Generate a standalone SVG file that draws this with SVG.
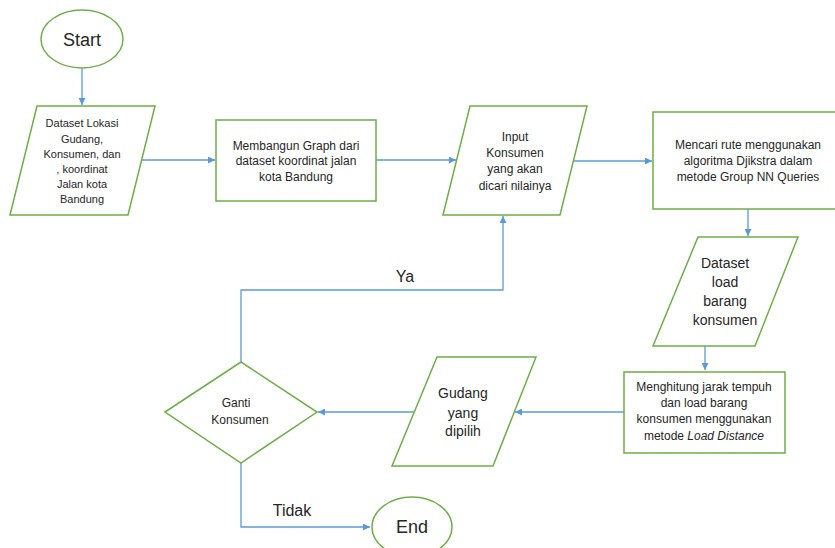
<svg xmlns="http://www.w3.org/2000/svg" width="835" height="548" viewBox="0 0 835 548">
<defs>
<marker id="ah" viewBox="0 0 10 10" refX="10" refY="5" markerWidth="7" markerHeight="7" markerUnits="userSpaceOnUse" orient="auto"><path d="M0,0 L10,5 L0,10 z" fill="#5B9BD5"/></marker>
<style>
.s{fill:#fff;stroke:#70AD47;stroke-width:1.5}
.c{fill:none;stroke:#5B9BD5;stroke-width:1.3;marker-end:url(#ah)}
.l{fill:none;stroke:#5B9BD5;stroke-width:1.3}
text{font-family:"Liberation Sans",Arial,sans-serif;fill:#262626;text-anchor:middle}
.t11{font-size:11px}.t12{font-size:12px}.t14{font-size:14px}.t16{font-size:16px}.t18{font-size:18px}
</style>
</defs>
<rect width="835" height="548" fill="#fff"/>
<g id="connectors">
<path class="c" d="M82,68 L82,105"/>
<path class="c" d="M142,160 L215,160"/>
<path class="c" d="M376,160 L456,160"/>
<path class="c" d="M573,161 L652,161"/>
<path class="c" d="M748,209 L748,236"/>
<path class="c" d="M705,346 L705,370"/>
<path class="c" d="M624,412 L515,412"/>
<path class="c" d="M414,412 L318,412"/>
<path class="c" d="M241,362 L241,290 L503,290 L503,216"/>
<path class="c" d="M241,463 L241,527 L370,527"/>
</g>
<g id="start"><ellipse class="s" cx="82" cy="39" rx="41" ry="29"/><text class="t18" x="82" y="46">Start</text></g>
<g id="dataset1"><polygon class="s" points="37,106 155,106 128,215 10,215"/>
<text class="t11"><tspan x="82" y="127">Dataset Lokasi</tspan><tspan x="82" y="143">Gudang,</tspan><tspan x="82" y="158">Konsumen, dan</tspan><tspan x="82" y="173">, koordinat</tspan><tspan x="82" y="188">Jalan kota</tspan><tspan x="82" y="203">Bandung</tspan></text></g>
<g id="graph"><rect class="s" x="216" y="120" width="160" height="81"/>
<text class="t12"><tspan x="296" y="150">Membangun Graph dari</tspan><tspan x="296" y="165">dataset koordinat jalan</tspan><tspan x="296" y="181">kota Bandung</tspan></text></g>
<g id="input"><polygon class="s" points="470,106 587,106 560,215 443,215"/>
<text class="t12"><tspan x="515" y="141">Input</tspan><tspan x="515" y="157">Konsumen</tspan><tspan x="515" y="173">yang akan</tspan><tspan x="515" y="190">dicari nilainya</tspan></text></g>
<g id="dijkstra"><rect class="s" x="653" y="112" width="190" height="97"/>
<text class="t12"><tspan x="748" y="149">Mencari rute menggunakan</tspan><tspan x="748" y="165">algoritma Djikstra dalam</tspan><tspan x="748" y="181">metode Group NN Queries</tspan></text></g>
<g id="dataset2"><polygon class="s" points="698,237 798,237 755,346 653,346"/>
<text class="t14"><tspan x="725" y="268">Dataset</tspan><tspan x="725" y="287">load</tspan><tspan x="725" y="306">barang</tspan><tspan x="725" y="325">konsumen</tspan></text></g>
<g id="hitung"><rect class="s" x="624" y="372" width="161" height="81"/>
<text class="t12"><tspan x="704" y="391">Menghitung jarak tempuh</tspan><tspan x="704" y="407">dan load barang</tspan><tspan x="704" y="423">konsumen menggunakan</tspan><tspan x="704" y="440">metode <tspan font-style="italic">Load Distance</tspan></tspan></text></g>
<g id="gudang"><polygon class="s" points="437,357 536,357 493,466 392,466"/>
<text class="t14"><tspan x="463" y="398">Gudang</tspan><tspan x="463" y="418">yang</tspan><tspan x="463" y="436">dipilih</tspan></text></g>
<g id="ganti"><polygon class="s" points="165,412 241,362 317,412 241,463"/>
<text class="t12"><tspan x="236" y="407">Ganti</tspan><tspan x="240" y="424">Konsumen</tspan></text></g>
<g id="end"><ellipse class="s" cx="412" cy="527" rx="40" ry="30"/><text class="t18" x="412" y="533">End</text></g>
<text class="t16" x="405" y="282">Ya</text>
<text class="t16" x="292" y="516">Tidak</text>
</svg>
